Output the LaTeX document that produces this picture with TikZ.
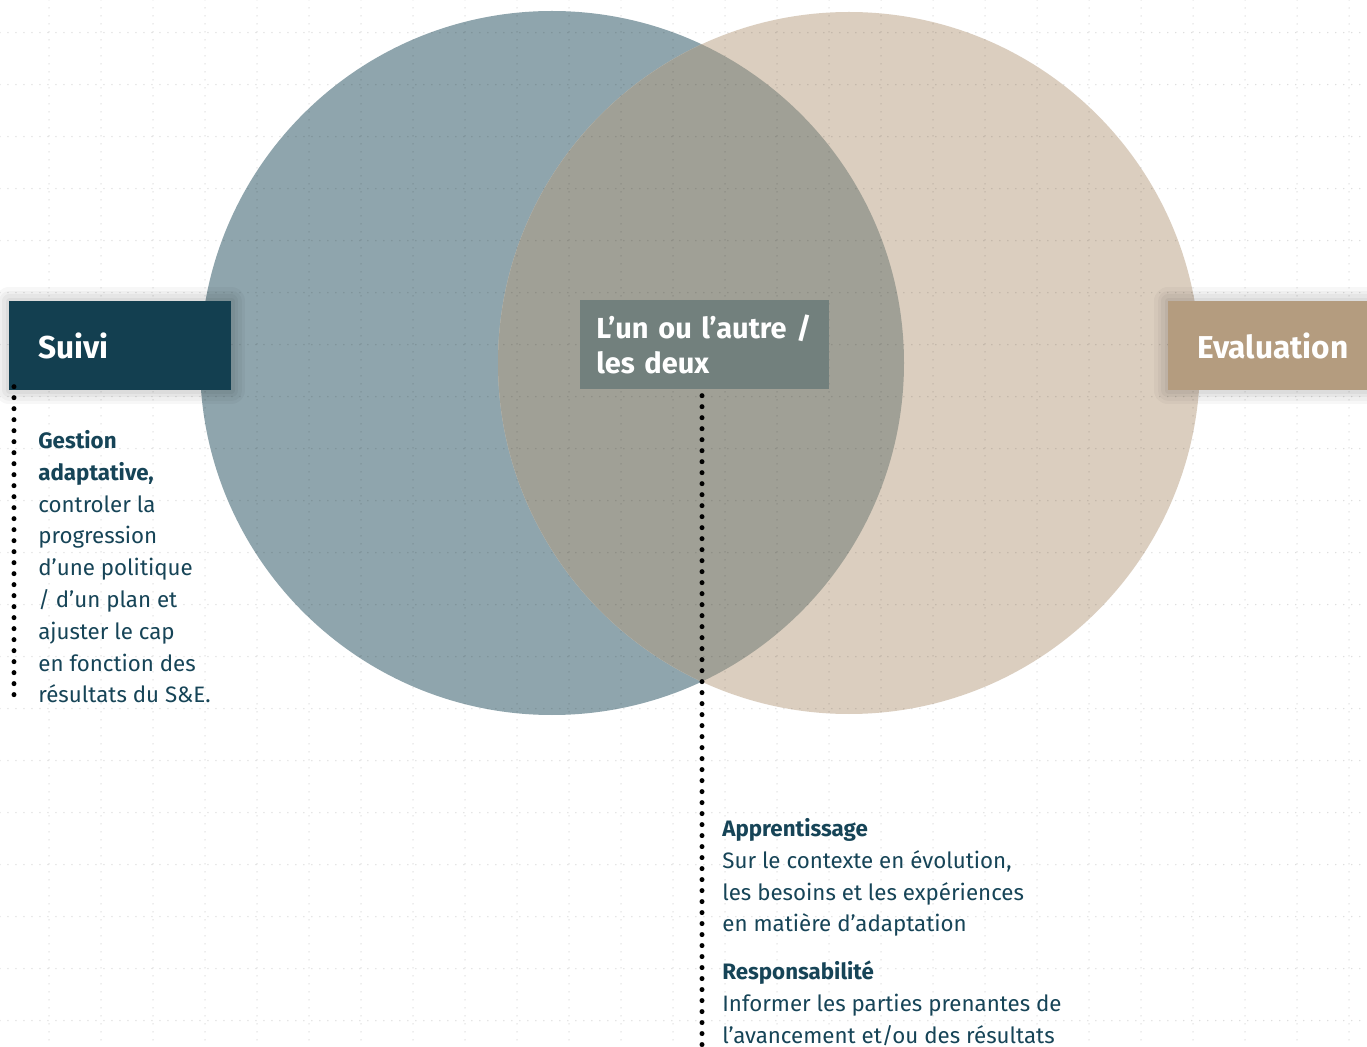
\documentclass[tikz,border=0pt]{standalone}
\usepackage{fontspec}
\setmainfont{Fira Sans}
\usetikzlibrary{positioning}
\definecolor{suiviblue}{HTML}{133F50}
\definecolor{textblue}{HTML}{164457}
\definecolor{leftcirc}{HTML}{8FA5AD}
\definecolor{rightcirc}{HTML}{DBCEBF}
\definecolor{overlapc}{HTML}{A0A096}
\definecolor{midgray}{HTML}{72807D}
\definecolor{evalbrown}{HTML}{B49C7F}

\begin{document}
\begin{tikzpicture}[x=0.02cm,y=-0.02cm,
    titlebox/.style={anchor=north west,minimum height=1.78cm,inner xsep=0.58cm,
        align=left,text=white,font=\fontsize{18}{22}\selectfont\bfseries},
    softshadow/.style={
        preaction={draw=black,opacity=0.03,line width=16pt,line join=round},
        preaction={draw=black,opacity=0.03,line width=12pt,line join=round},
        preaction={draw=black,opacity=0.035,line width=8pt,line join=round},
        preaction={draw=black,opacity=0.04,line width=4pt,line join=round}},
    bodytext/.style={anchor=north west,inner sep=0pt,align=left,text=textblue,
        font=\fontsize{12.7}{18.1}\selectfont},
    dotline/.style={line width=0.1cm,line cap=round,dash pattern=on 0pt off 0.22cm},
    gridline/.style={black,opacity=0.14,line width=0.03cm,line cap=round,
        dash pattern=on 0pt off 0.16cm}]
  \useasboundingbox[fill=white] (0,0) rectangle (1367,1047);
  % the two circles and their overlap
  \fill[leftcirc] (552,363) circle[radius=352];
  \fill[rightcirc] (849,363) circle[radius=351];
  \begin{scope}
    \clip (552,363) circle[radius=352];
    \fill[overlapc] (849,363) circle[radius=351];
  \end{scope}
  % dotted grid
  \foreach \gx in {0,...,25}
    \draw[gridline] (49+52*\gx,0) -- (49+52*\gx,1047);
  \foreach \gy in {0,...,19}
    \draw[gridline] (0,32.7+52*\gy) -- (1367,32.7+52*\gy);
  % boxes
  \node[titlebox,softshadow,fill=suiviblue,text width=3.28cm] (suivi) at (9,301) {Suivi};
  \node[titlebox,softshadow,fill=evalbrown,text width=3.4cm] (eval) at (1168,301) {Evaluation};
  \node[titlebox,fill=midgray,inner xsep=0.32cm,text width=4.34cm,
        font=\fontsize{16.5}{19.9}\selectfont\bfseries] (both) at (580,300)
        {L’un ou l’autre /\\les deux};
  % texts
  \node[bodytext] (gestion) at (38,430)
    {\textbf{Gestion}\\\textbf{adaptative,}\\controler la\\progression\\d’une politique\\/ d’un plan et\\ajuster le cap\\en fonction des\\résultats du S\&E.};
  \node[bodytext] (apprent) at (722,818)
    {\textbf{Apprentissage}\\Sur le contexte en évolution,\\les besoins et les expériences\\en matière d’adaptation\\[0.32cm]
     \textbf{Responsabilité}\\Informer les parties prenantes de\\l’avancement et/ou des résultats};
  % dotted connectors
  \coordinate (suiviend) at (14,700);
  \coordinate (bothend) at (702,1047);
  \draw[dotline] ([xshift=0.1cm,yshift=0.08cm]suivi.south west) -- (suiviend);
  \draw[dotline] ([yshift=-0.12cm]both.south -| bothend) -- (bothend);
\end{tikzpicture}
\end{document}
